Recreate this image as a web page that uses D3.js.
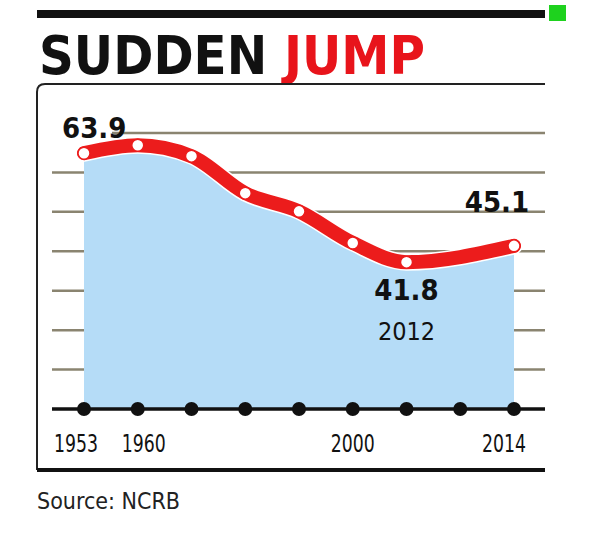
<!DOCTYPE html>
<html><head><meta charset="utf-8">
<script src="https://cdn.jsdelivr.net/npm/d3@7"></script>
<style>body{margin:0;background:#fff}</style>
</head><body>
<svg id="chart" width="600" height="538"></svg>
<script>
// slots along the axis (one dot per slot), and the series drawn on them
const slots = ["1953", "1960", "s3", "s4", "s5", "2000", "2012", "s8", "2014"];
const tickLabels = { "1953": "1953", "1960": "1960", "2000": "2000", "2014": "2014" };
const pointSlots = ["1953", "1960", "s3", "s4", "s5", "2000", "2012", "2014"];
const values = [63.9, 65.5, 63.3, 55.8, 52.1, 45.7, 41.8, 45.1];
const gridValues = [12, 20, 28, 36, 44, 52, 60, 68];

const svg = d3.select("#chart");
const narrow = "'Liberation Sans Narrow','Arial Narrow','DejaVu Sans Condensed',sans-serif";

const x = d3.scalePoint().domain(slots).range([84, 514]);
const y = d3.scaleLinear().domain([11.4, 68.2]).range([412, 132]);

// top bar + green marker
svg.append("rect").attr("x", 37).attr("y", 10).attr("width", 508).attr("height", 8).attr("fill", "#111");
svg.append("rect").attr("x", 549).attr("y", 5).attr("width", 17).attr("height", 16).attr("fill", "#1ed21e");

// title
const title = svg.append("text").attr("x", 39).attr("y", 74)
  .attr("font-family", narrow).attr("font-weight", "bold").attr("font-size", 54)
  .attr("textLength", 386).attr("lengthAdjust", "spacingAndGlyphs");
title.append("tspan").attr("fill", "#111").text("SUDDEN ");
title.append("tspan").attr("fill", "#e8141b").text("JUMP");

// frame
svg.append("path").attr("d", "M37,470 L37,92 Q37,84 45,84 L545,84")
  .attr("fill", "none").attr("stroke", "#222").attr("stroke-width", 2);
svg.append("line").attr("x1", 37).attr("x2", 545).attr("y1", 470).attr("y2", 470)
  .attr("stroke", "#111").attr("stroke-width", 4);

// grid
svg.append("g").selectAll("line").data(gridValues.slice(1)).join("line")
  .attr("x1", (d, i) => i === gridValues.length - 2 ? 112 : 52).attr("x2", 545)
  .attr("y1", d => y(d)).attr("y2", d => y(d))
  .attr("stroke", "#8a8470").attr("stroke-width", 2.5);

// area
const pts = pointSlots.map((s, i) => [x(s), y(values[i])]);
const area = d3.area().x(d => d[0]).y0(y(gridValues[0])).y1(d => d[1]).curve(d3.curveMonotoneX);
svg.append("path").datum(pts).attr("d", area).attr("fill", "#b5dcf7");

// axis
svg.append("line").attr("x1", 52).attr("x2", 545).attr("y1", y(gridValues[0])).attr("y2", y(gridValues[0]))
  .attr("stroke", "#111").attr("stroke-width", 3.5);
svg.append("g").selectAll("circle").data(slots).join("circle")
  .attr("cx", d => x(d)).attr("cy", y(gridValues[0])).attr("r", 7).attr("fill", "#111");
svg.append("g").selectAll("text").data(slots.filter(s => tickLabels[s])).join("text")
  .attr("x", d => x(d) + (d === "2014" ? -10 : d === "1953" ? -8 : d === "1960" ? 6 : 0)).attr("y", 452)
  .attr("text-anchor", "middle").attr("font-family", narrow).attr("font-size", 25).attr("fill", "#111")
  .attr("textLength", 44).attr("lengthAdjust", "spacingAndGlyphs")
  .text(d => tickLabels[d]);

// line
const line = d3.line().curve(d3.curveMonotoneX);
svg.append("path").datum(pts).attr("d", line).attr("fill", "none")
  .attr("stroke", "#fff").attr("stroke-width", 17).attr("stroke-linecap", "round");
svg.append("path").datum(pts).attr("d", line).attr("fill", "none")
  .attr("stroke", "#ec1c1c").attr("stroke-width", 14).attr("stroke-linecap", "round");
svg.append("g").selectAll("circle").data(pts).join("circle")
  .attr("cx", d => d[0]).attr("cy", d => d[1]).attr("r", 6)
  .attr("fill", "#fff").attr("stroke", "#ec1c1c").attr("stroke-width", 1.5);

// value labels
const bold = (tx, ty, t, anchor) => svg.append("text").attr("x", tx).attr("y", ty)
  .attr("text-anchor", anchor).attr("font-family", narrow).attr("font-weight", "bold")
  .attr("font-size", 29).attr("fill", "#111").text(t);
const last = values.length - 1, low = values.indexOf(d3.min(values));
bold(x(pointSlots[0]) - 22, 138, values[0].toFixed(1), "start");
bold(x(pointSlots[last]) - 17, 212, values[last].toFixed(1), "middle");
bold(x(pointSlots[low]), 300, values[low].toFixed(1), "middle");
svg.append("text").attr("x", x(pointSlots[low])).attr("y", 340).attr("text-anchor", "middle")
  .attr("font-family", narrow).attr("font-size", 25).attr("fill", "#111").text(pointSlots[low]);

// source
svg.append("text").attr("x", 37).attr("y", 509).attr("font-family", "'DejaVu Sans Condensed','Liberation Sans Narrow',sans-serif")
  .attr("font-size", 23).attr("fill", "#222").text("Source: NCRB");
</script>
</body></html>
